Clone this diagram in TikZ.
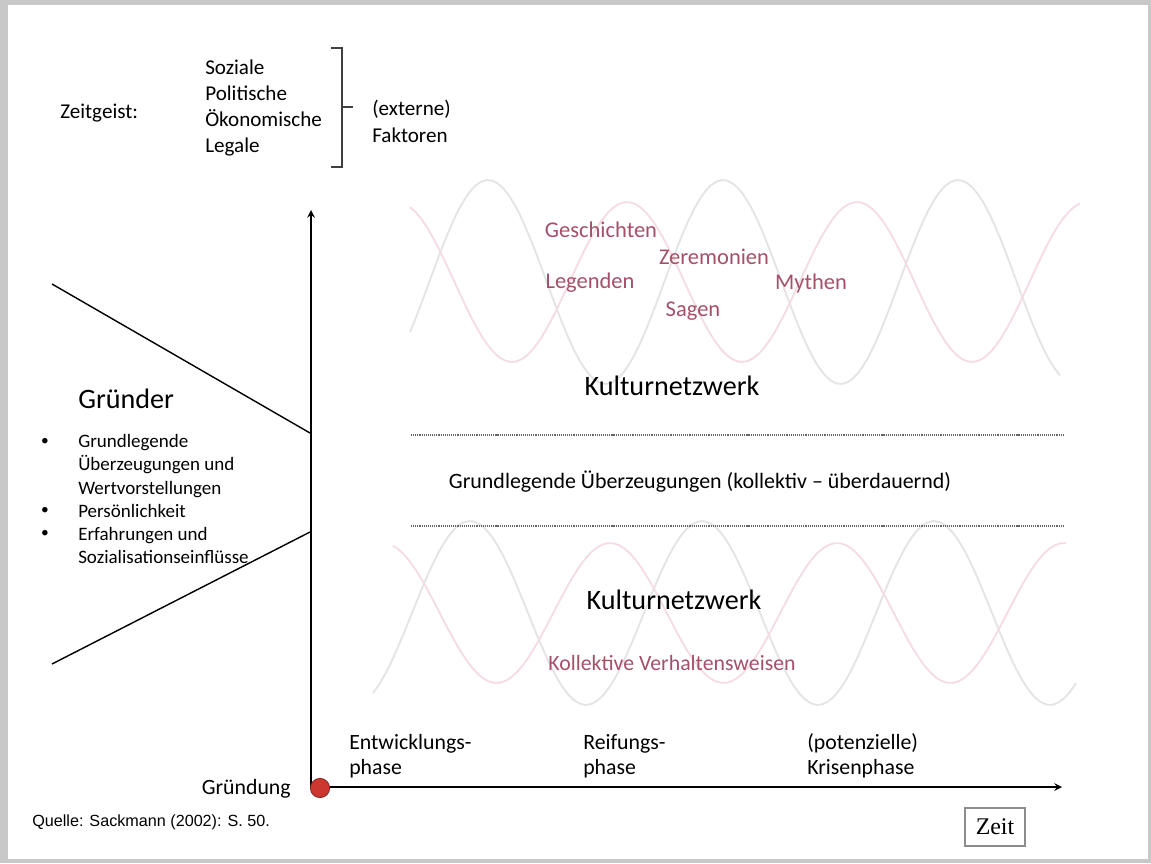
\documentclass[tikz,border=0pt]{standalone}
\usepackage{fontspec}
\setmainfont{Carlito}
\newfontfamily\quellfont{Liberation Sans}
\newfontfamily\zeitfont{Liberation Serif}

\definecolor{rahmen}{RGB}{200,200,200}
\definecolor{weinrot}{RGB}{165,80,105}
\definecolor{wellegrau}{RGB}{228,228,228}
\definecolor{wellerosa}{RGB}{245,220,226}
\definecolor{punktrot}{RGB}{205,55,50}

\begin{document}
\begin{tikzpicture}[x=0.025cm, y=-0.025cm, >=stealth,
    welle/.style={line width=1.3pt},
    punktlinie/.style={line width=1.5pt, black!60, dash pattern=on 0.8pt off 0.7pt},
    begriff/.style={text=weinrot, inner sep=0pt, font=\fontsize{16}{19}\selectfont},
    phasentext/.style={anchor=west, align=left, inner sep=0pt, font=\fontsize{15.5}{17.5}\selectfont}]

  % ==========================================
  % Hintergrund und Rahmen
  % ==========================================
  \useasboundingbox (0,0) rectangle (1151,863);
  \fill[rahmen] (0,0) rectangle (1151,863);
  \fill[white] (8,5) rectangle (1148,859);

  % ==========================================
  % Wellen (Kulturnetzwerk oben und unten)
  % ==========================================
  \draw[welle, wellegrau] plot[domain=410:1060, samples=120] (\x, {282-102*cos((\x-488)/235*360)});
  \draw[welle, wellerosa] plot[domain=410:1080, samples=120] (\x, {282-80*cos((\x-627)/230*360)});
  \draw[welle, wellegrau] plot[domain=373:1076, samples=120] (\x, {613-92*cos((\x-470)/232*360)});
  \draw[welle, wellerosa] plot[domain=393:1066, samples=120] (\x, {613-70*cos((\x-610)/227*360)});

  % ==========================================
  % Zeitgeist (oben links)
  % ==========================================
  \node[anchor=west, inner sep=0pt, font=\fontsize{15}{18}\selectfont] (zeitgeist) at (60,113) {Zeitgeist:};
  \node[anchor=west, align=left, inner sep=0pt, font=\fontsize{15}{18.7}\selectfont] (faktoren) at (205,108)
    {Soziale\\Politische\\Ökonomische\\Legale};
  % Klammer
  \draw[line width=1pt, black!75] (331,48) -- (342,48) -- (342,167) -- (331,167);
  \draw[line width=1pt, black!75] (342,107) -- (353,107);
  \node[anchor=west, align=left, inner sep=0pt, font=\fontsize{15}{19}\selectfont] (externe) at (372,121)
    {(externe)\\Faktoren};

  % ==========================================
  % Gründer (links)
  % ==========================================
  \coordinate (oben_links) at (52,284);
  \coordinate (oben_rechts) at (310,433);
  \coordinate (unten_links) at (52,664);
  \coordinate (unten_rechts) at (310,532);
  \draw[line width=1pt] (oben_links) -- (oben_rechts);
  \draw[line width=1pt] (unten_links) -- (unten_rechts);

  \node[anchor=west, inner sep=0pt, font=\fontsize{20}{24}\selectfont] (gruender) at (78,399) {Gründer};
  \node[anchor=west, align=left, inner sep=0pt, font=\fontsize{13.5}{16.4}\selectfont] (merkmale) at (78,499)
    {Grundlegende\\Überzeugungen und\\Wertvorstellungen\\Persönlichkeit\\Erfahrungen und\\Sozialisationseinflüsse};
  \foreach \yb in {442,511,534}
    \node[inner sep=0pt, font=\fontsize{11}{13}\selectfont] at (45,\yb) {\textbullet};

  % ==========================================
  % Achsen
  % ==========================================
  \coordinate (ursprung) at (311,787);
  \coordinate (yspitze) at (311,210);
  \coordinate (xspitze) at (1062,787);
  \draw[->, line width=1.4pt] (ursprung) -- (yspitze);
  \draw[->, line width=1.4pt] (ursprung) -- (xspitze);

  \node[circle, minimum size=0.48cm, inner sep=0pt, fill=punktrot, draw=punktrot!65!black, line width=0.6pt] (gruendungspunkt) at (320,788) {};
  \node[anchor=east, inner sep=0pt, font=\fontsize{15.5}{18}\selectfont] (gruendung) at (291,789) {Gründung};

  % Phasen
  \node[phasentext] (entwicklung) at (349,756) {Entwicklungs-\\phase};
  \node[phasentext] (reifung) at (583,756) {Reifungs-\\phase};
  \node[phasentext] (krise) at (807,756) {(potenzielle)\\Krisenphase};

  % ==========================================
  % Kulturnetzwerk und Grundannahmen
  % ==========================================
  \node[begriff] (geschichten) at (601,230) {Geschichten};
  \node[begriff] (zeremonien) at (714,257) {Zeremonien};
  \node[begriff] (legenden) at (590,283) {Legenden};
  \node[begriff] (mythen) at (811,283) {Mythen};
  \node[begriff] (sagen) at (693,311) {Sagen};
  \node[inner sep=0pt, font=\fontsize{20}{24}\selectfont] (kultur_oben) at (672,386) {Kulturnetzwerk};

  \coordinate (linie1_a) at (411,435);
  \coordinate (linie1_b) at (1063,435);
  \coordinate (linie2_a) at (411,526);
  \coordinate (linie2_b) at (1063,526);
  \draw[punktlinie] (linie1_a) -- (linie1_b);
  \draw[punktlinie] (linie2_a) -- (linie2_b);
  \node[inner sep=0pt, font=\fontsize{15.6}{19}\selectfont] (grundannahmen) at (700,482)
    {Grundlegende Überzeugungen (kollektiv – überdauernd)};

  \node[inner sep=0pt, font=\fontsize{20}{24}\selectfont] (kultur_unten) at (674,600) {Kulturnetzwerk};
  \node[begriff, font=\fontsize{15.5}{19}\selectfont] (verhalten) at (672,663) {Kollektive Verhaltensweisen};

  % ==========================================
  % Quelle und Zeit
  % ==========================================
  \node[anchor=west, inner sep=0pt, font=\quellfont\fontsize{11.5}{14}\selectfont] (quelle) at (32,822) {Quelle: Sackmann (2002): S. 50.};
  \node[draw=black!45, line width=0.8pt, minimum width=1.5cm, minimum height=0.95cm, inner sep=0pt, font=\zeitfont\fontsize{17}{20}\selectfont] (zeit) at (995,827) {Zeit};

\end{tikzpicture}
\end{document}
